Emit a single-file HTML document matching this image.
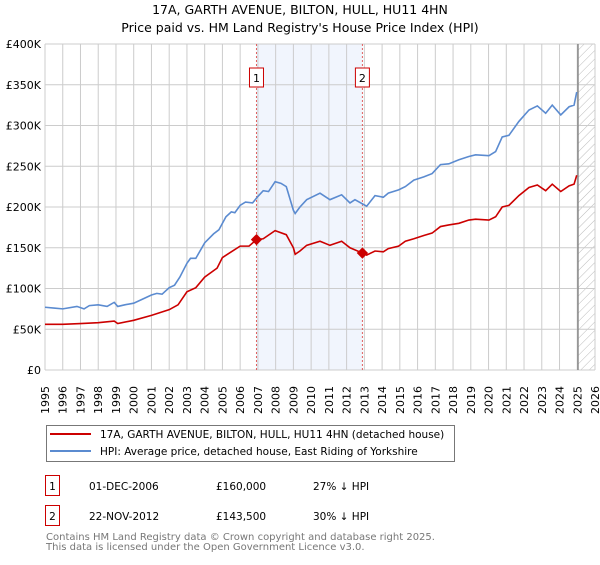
<!DOCTYPE html>
<html><head><meta charset="utf-8"><style>
body{margin:0;background:#fff;font-family:"Liberation Sans","DejaVu Sans",sans-serif}
svg text{font-family:"DejaVu Sans","Liberation Sans",sans-serif}
</style></head><body>
<svg id="c" width="600" height="560" xmlns="http://www.w3.org/2000/svg">
<defs><pattern id="hatch" width="6" height="6" patternUnits="userSpaceOnUse" patternTransform="rotate(45)"><line x1="0" y1="0" x2="0" y2="6" stroke="#bbb" stroke-width="1"/></pattern></defs>
<text x="300" y="14" text-anchor="middle" font-size="12.5" fill="#000">17A, GARTH AVENUE, BILTON, HULL, HU11 4HN</text>
<text x="300" y="32" text-anchor="middle" font-size="12.5" fill="#000">Price paid vs. HM Land Registry's House Price Index (HPI)</text>
<g id="grid"></g><g id="marks"></g><g id="axes"></g>
<g>
<rect x="46.5" y="425.5" width="408" height="36" fill="#fff" stroke="#777"/>
<line x1="50" y1="434" x2="91" y2="434" stroke="#cc0000" stroke-width="2"/>
<text x="100" y="438" font-size="10.5">17A, GARTH AVENUE, BILTON, HULL, HU11 4HN (detached house)</text>
<line x1="50" y1="451" x2="91" y2="451" stroke="#5b8bd0" stroke-width="2"/>
<text x="100" y="455" font-size="10.5">HPI: Average price, detached house, East Riding of Yorkshire</text>
</g>
<g font-size="10.5">
<rect x="45.5" y="475.5" width="14" height="20" fill="#fff" stroke="#cc0000"/><text x="52.5" y="490" text-anchor="middle">1</text>
<text x="89" y="490">01-DEC-2006</text><text x="216" y="490">£160,000</text><text x="313" y="490">27% ↓ HPI</text>
<rect x="45.5" y="505.5" width="14" height="20" fill="#fff" stroke="#cc0000"/><text x="52.5" y="520" text-anchor="middle">2</text>
<text x="89" y="520">22-NOV-2012</text><text x="216" y="520">£143,500</text><text x="313" y="520">30% ↓ HPI</text>
</g>
<text x="46" y="540" font-size="10" fill="#777">Contains HM Land Registry data © Crown copyright and database right 2025.</text>
<text x="46" y="550" font-size="10" fill="#777">This data is licensed under the Open Government Licence v3.0.</text>
</svg>
<script>
const yTicks=[0,50,100,150,200,250,300,350,400];
const yTickLabels=["£0","£50K","£100K","£150K","£200K","£250K","£300K","£350K","£400K"];
const xYears=[1995,1996,1997,1998,1999,2000,2001,2002,2003,2004,2005,2006,2007,2008,2009,2010,2011,2012,2013,2014,2015,2016,2017,2018,2019,2020,2021,2022,2023,2024,2025,2026];
const saleDates=[2006.92,2012.89];
const salePrices=[160,143.5];
const saleLabels=["1","2"];
const hpiDates=[1995,1995.5,1996,1996.8,1997.2,1997.5,1998,1998.5,1998.9,1999.1,1999.5,2000,2000.5,2001,2001.3,2001.6,2002,2002.3,2002.6,2003,2003.2,2003.5,2004,2004.5,2004.8,2005.2,2005.5,2005.7,2006,2006.3,2006.7,2007,2007.3,2007.6,2007.97,2008.3,2008.6,2009.0,2009.1,2009.37,2009.75,2010.50,2011.06,2011.72,2012.19,2012.47,2013.13,2013.60,2014.07,2014.35,2014.93,2015.31,2015.79,2016.35,2016.82,2017.29,2017.76,2018.33,2018.89,2019.27,2020.02,2020.40,2020.77,2021.15,2021.71,2022.28,2022.75,2023.22,2023.59,2024.07,2024.54,2024.82,2024.97];
const hpiValues=[77,76,75,78,75,79,80,78,83,78,80,82,87,92,94,93,101,104,114,131,137,137,156,167,172,188,194,193,202,206,205,213,220,219,231,229,225,196,192,200,209,217,209,215,205,209,201,214,212,217,221,225,233,237,241,252,253,258,262,264,263,268,286,288,305,319,324,315,325,313,323,325,341];
const propDates=[1995,1996,1997,1998,1998.9,1999.1,2000,2001,2002,2002.5,2003,2003.5,2004,2004.7,2005,2005.5,2006,2006.5,2006.92,2007.3,2007.97,2008.6,2009.0,2009.1,2009.37,2009.75,2010.50,2011.06,2011.72,2012.19,2012.89,2013.13,2013.60,2014.07,2014.35,2014.93,2015.31,2015.79,2016.35,2016.82,2017.29,2017.76,2018.33,2018.89,2019.27,2020.02,2020.40,2020.77,2021.15,2021.71,2022.28,2022.75,2023.22,2023.59,2024.07,2024.54,2024.82,2024.97];
const propValues=[56,56,57,58,60,57,61,67,74,80,96,101,114,125,138,145,152,152,160,161,171,166,150,142,146,153,158,153,158,150,143.5,141,146,145,149,152,158,161,165,168,176,178,180,184,185,184,188,200,202,214,224,227,220,228,219,226,228,239];
const X0=45,X1=595,Y0=370,Y1=44;
const xs=y=>X0+(y-1995)/(2026-1995)*(X1-X0);
const ys=v=>Y0-v/400*(Y0-Y1);
const NS="http://www.w3.org/2000/svg";
function mk(tag,parent,attrs){const e=document.createElementNS(NS,tag);for(const k in attrs)e.setAttribute(k,attrs[k]);document.getElementById(parent).appendChild(e);return e;}
let sh=mk('rect','grid',{x:xs(saleDates[0]),y:Y1,width:xs(saleDates[1])-xs(saleDates[0]),height:Y0-Y1,fill:'#eef3fd',opacity:0.8});


let hz=mk('rect','grid',{x:xs(2025.04),y:Y1,width:X1-xs(2025.04),height:Y0-Y1,fill:'url(#hatch)'});


xYears.forEach(yr=>{
 let l=mk('line','grid',{x1:xs(yr),x2:xs(yr),y1:Y1,y2:Y0,stroke:'#ccc','stroke-width':1});
 
 
 let t=mk('text','axes',{transform:`translate(${xs(yr)+4},${Y0+44}) rotate(-90)`,'font-size':11,fill:'#000'});
 t.textContent=yr;
 
 
});
yTicks.forEach((v,i)=>{
 let l=mk('line','grid',{x1:X0,x2:X1,y1:ys(v),y2:ys(v),stroke:'#ccc','stroke-width':1});
 
 
 let t=mk('text','axes',{x:X0-4,y:ys(v)+4,'text-anchor':'end','font-size':11,fill:'#000'});
 t.textContent=yTickLabels[i];
 
 
});
let nl=mk('line','grid',{x1:xs(2025.04),x2:xs(2025.04),y1:Y1,y2:Y0,stroke:'#888','stroke-width':1.5});


saleDates.forEach((d,i)=>{
 let l=mk('line','marks',{x1:xs(d),x2:xs(d),y1:Y1,y2:Y0,stroke:'#e06060','stroke-width':1,'stroke-dasharray':'2,2'});
 
 
 let r=mk('rect','marks',{x:xs(d)-7,y:68,width:14,height:19,fill:'#fff',stroke:'#cc0000'});
 
 
 let t=mk('text','marks',{x:xs(d),y:82,'text-anchor':'middle','font-size':11});
 t.textContent=saleLabels[i];
 
 
});
function line(dates,vals,color,name){
 let p=mk('polyline','marks',{points:dates.map((d,i)=>xs(d)+','+ys(vals[i])).join(' '),fill:'none',stroke:color,'stroke-width':1.6});
 
 
}
line(hpiDates,hpiValues,'#5b8bd0','hpi-line');
line(propDates,propValues,'#cc0000','property-line');
saleDates.forEach((d,i)=>{
 let c=mk('rect','marks',{x:xs(d)-4,y:ys(salePrices[i])-4,width:8,height:8,fill:'#cc0000',transform:`rotate(45 ${xs(d)} ${ys(salePrices[i])})`});
 
 
});
</script>
</body></html>
